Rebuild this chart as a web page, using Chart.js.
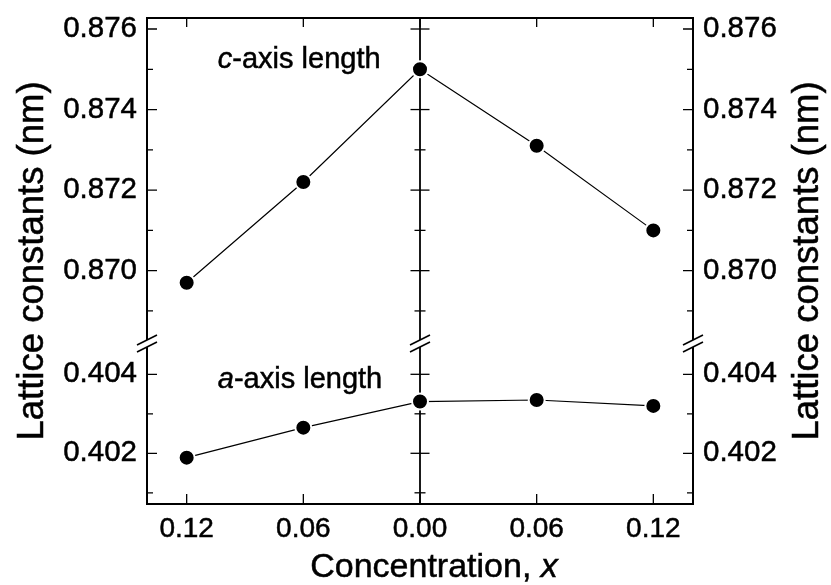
<!DOCTYPE html>
<html>
<head>
<meta charset="utf-8">
<script src="https://cdn.jsdelivr.net/npm/chart.js@4.4.1/dist/chart.umd.min.js"></script>
<style>
  html, body { margin: 0; padding: 0; background: #fff; }
  #wrap { width: 831px; height: 585px; position: relative; }
</style>
</head>
<body>
<div id="wrap"><canvas id="lattice"></canvas></div>
<script>
// Concentration positions: negative side is drawn to the left of x = 0, labelled by magnitude
const concentration = [-0.12, -0.06, 0.00, 0.06, 0.12];
const xTickValues = [-0.12, -0.06, 0.00, 0.06, 0.12];

// Lattice constants (nm)
const cAxisLength = [0.8697, 0.8722, 0.8750, 0.8731, 0.8710];
const aAxisLength = [0.40189, 0.40265, 0.40331, 0.40335, 0.40320];

// Tick values for the two segments of the broken y axis
const cMajorTicks = [0.870, 0.872, 0.874, 0.876];
const cMinorTicks = [0.869, 0.871, 0.873, 0.875];
const aMajorTicks = [0.402, 0.404];
const aMinorTicks = [0.401, 0.403];

// Text
const cLabel = ['c', '-axis length'];
const aLabel = ['a', '-axis length'];
const xTitle = ['Concentration, ', 'x'];
const yTitle = 'Lattice constants (nm)';

const FONT = '"Liberation Sans", Arial, Helvetica, sans-serif';
const TEXT_STROKE = 0.5;

function drawBreak(ctx, x, y) {
  const dx = 10, dy = 5, gap = 3.5;
  ctx.save();
  ctx.fillStyle = '#fff';
  ctx.beginPath();
  ctx.moveTo(x - 4, y - gap + 2);
  ctx.lineTo(x + 4, y - gap - 2);
  ctx.lineTo(x + 4, y + gap - 2);
  ctx.lineTo(x - 4, y + gap + 2);
  ctx.closePath();
  ctx.fill();
  ctx.strokeStyle = '#000';
  ctx.lineWidth = 1.6;
  ctx.beginPath();
  ctx.moveTo(x - dx, y - gap + dy); ctx.lineTo(x + dx, y - gap - dy);
  ctx.moveTo(x - dx, y + gap + dy); ctx.lineTo(x + dx, y + gap - dy);
  ctx.stroke();
  ctx.restore();
}

function paintText(ctx, text, x, y) {
  ctx.fillText(text, x, y);
  ctx.strokeText(text, x, y);
}

function drawMixed(ctx, parts, italicIndex, x, y, size, align) {
  const fonts = parts.map((p, i) => (i === italicIndex ? 'italic ' : '') + size + 'px ' + FONT);
  const widths = parts.map((p, i) => { ctx.font = fonts[i]; return ctx.measureText(p).width; });
  const total = widths.reduce((s, w) => s + w, 0);
  let cx = align === 'center' ? x - total / 2 : x;
  ctx.textAlign = 'left';
  ctx.textBaseline = 'alphabetic';
  parts.forEach((p, i) => { ctx.font = fonts[i]; paintText(ctx, p, cx, y); cx += widths[i]; });
}

const latticeFrame = {
  id: 'latticeFrame',
  beforeDatasetsDraw(chart) {
    const { ctx, chartArea: area, scales } = chart;
    const x0 = scales.x.getPixelForValue(0);
    ctx.save();
    ctx.strokeStyle = '#000';
    ctx.lineWidth = 1.8;
    ctx.beginPath();
    ctx.moveTo(x0, area.top); ctx.lineTo(x0, area.bottom);
    ctx.stroke();
    ctx.lineWidth = 1.3;
    const cross = (scale, vals, half) => vals.forEach(v => {
      const y = scale.getPixelForValue(v);
      ctx.beginPath(); ctx.moveTo(x0 - half, y); ctx.lineTo(x0 + half, y); ctx.stroke();
    });
    cross(scales.yc, cMajorTicks, 9.5); cross(scales.yc, cMinorTicks, 5.5);
    cross(scales.ya, aMajorTicks, 9.5); cross(scales.ya, aMinorTicks, 5.5);
    ctx.restore();
    drawBreak(ctx, x0, scales.yc.bottom);
  },
  afterDraw(chart) {
    const { ctx, chartArea: area, scales } = chart;
    ctx.save();
    ctx.strokeStyle = '#000';
    // inward tick marks on the left and right frame
    ctx.lineWidth = 1.3;
    const side = (scale, vals, len) => vals.forEach(v => {
      const y = scale.getPixelForValue(v);
      ctx.beginPath();
      ctx.moveTo(area.left, y); ctx.lineTo(area.left + len, y);
      ctx.moveTo(area.right, y); ctx.lineTo(area.right - len, y);
      ctx.stroke();
    });
    side(scales.yc, cMajorTicks, 10); side(scales.yc, cMinorTicks, 6);
    side(scales.ya, aMajorTicks, 10); side(scales.ya, aMinorTicks, 6);
    // inward tick marks on the top and bottom frame
    xTickValues.forEach(v => {
      const x = scales.x.getPixelForValue(v);
      ctx.beginPath();
      ctx.moveTo(x, area.top); ctx.lineTo(x, area.top + 9);
      ctx.moveTo(x, area.bottom); ctx.lineTo(x, area.bottom - 10);
      ctx.stroke();
    });
    // frame
    ctx.lineWidth = 2;
    ctx.strokeRect(area.left, area.top, area.right - area.left, area.bottom - area.top);
    ctx.restore();

    const yb = scales.yc.bottom;
    drawBreak(ctx, area.left, yb);
    drawBreak(ctx, area.right, yb);

    // series annotations
    ctx.save();
    ctx.fillStyle = '#000';
    ctx.strokeStyle = '#000';
    ctx.lineWidth = TEXT_STROKE;
    drawMixed(ctx, cLabel, 0, scales.x.getPixelForValue(-0.104), scales.yc.getPixelForValue(0.87503), 29, 'left');
    drawMixed(ctx, aLabel, 0, scales.x.getPixelForValue(-0.104), scales.ya.getPixelForValue(0.40365), 29, 'left');
    // axis titles
    drawMixed(ctx, xTitle, 1, 434, 577, 34, 'center');
    const midY = (area.top + area.bottom) / 2;
    [43, 818].forEach(bx => {
      ctx.save();
      ctx.translate(bx, midY);
      ctx.rotate(-Math.PI / 2);
      ctx.font = '36.5px ' + FONT;
      ctx.textAlign = 'center';
      ctx.textBaseline = 'alphabetic';
      paintText(ctx, yTitle, 0, 0);
      ctx.restore();
    });
    ctx.restore();
  }
};

const yTickFont = { family: FONT, size: 29.5 };
function yAxis(position, stackName, weight, stackWeight, min, max, majors) {
  return {
    type: 'linear', position, stack: stackName, weight, stackWeight, min, max,
    grid: { display: false, drawTicks: false },
    border: { display: false },
    afterBuildTicks: s => { s.ticks = majors.map(v => ({ value: v })); },
    afterFit: s => {
      s.width = position === 'left' ? 147 : 138;
      s.paddingTop = 0; s.paddingBottom = 0;
    },
    ticks: {
      color: '#000', font: yTickFont, padding: 10, autoSkip: false,
      textStrokeColor: '#000', textStrokeWidth: TEXT_STROKE,
      callback: v => Number(v).toFixed(3)
    }
  };
}

const upper = [0.8681913, 0.8762733];
const lower = [0.4007165, 0.4047800];

new Chart(document.getElementById('lattice'), {
  type: 'line',
  data: {
    datasets: [
      {
        label: 'c-axis length', yAxisID: 'yc',
        data: concentration.map((x, i) => ({ x, y: cAxisLength[i] }))
      },
      {
        label: 'a-axis length', yAxisID: 'ya',
        data: concentration.map((x, i) => ({ x, y: aAxisLength[i] }))
      }
    ].map(d => Object.assign(d, {
      borderColor: '#000', borderWidth: 1.2, tension: 0,
      pointRadius: 8, pointBorderWidth: 2,
      pointBackgroundColor: '#000', pointBorderColor: '#fff'
    }))
  },
  options: {
    responsive: true, maintainAspectRatio: false, animation: false,
    layout: { padding: { top: 18, left: 0, right: 0, bottom: 0 } },
    plugins: { legend: { display: false }, tooltip: { enabled: false } },
    scales: {
      x: {
        type: 'linear', position: 'bottom', min: -0.1404, max: 0.1404,
        grid: { display: false, drawTicks: false },
        border: { display: false },
        afterBuildTicks: s => { s.ticks = xTickValues.map(v => ({ value: v })); },
        afterFit: s => { s.height = 81; s.paddingLeft = 0; s.paddingRight = 0; },
        ticks: {
          color: '#000', font: { family: FONT, size: 28 }, padding: 8, autoSkip: false,
          textStrokeColor: '#000', textStrokeWidth: TEXT_STROKE,
          maxRotation: 0, callback: v => Math.abs(Number(v)).toFixed(2)
        }
      },
      yc: yAxis('left', 'L', 2, 325.5, upper[0], upper[1], cMajorTicks),
      ya: yAxis('left', 'L', 1, 160.5, lower[0], lower[1], aMajorTicks),
      ycR: yAxis('right', 'R', 1, 325.5, upper[0], upper[1], cMajorTicks),
      yaR: yAxis('right', 'R', 2, 160.5, lower[0], lower[1], aMajorTicks)
    }
  },
  plugins: [latticeFrame]
});
</script>
</body>
</html>
